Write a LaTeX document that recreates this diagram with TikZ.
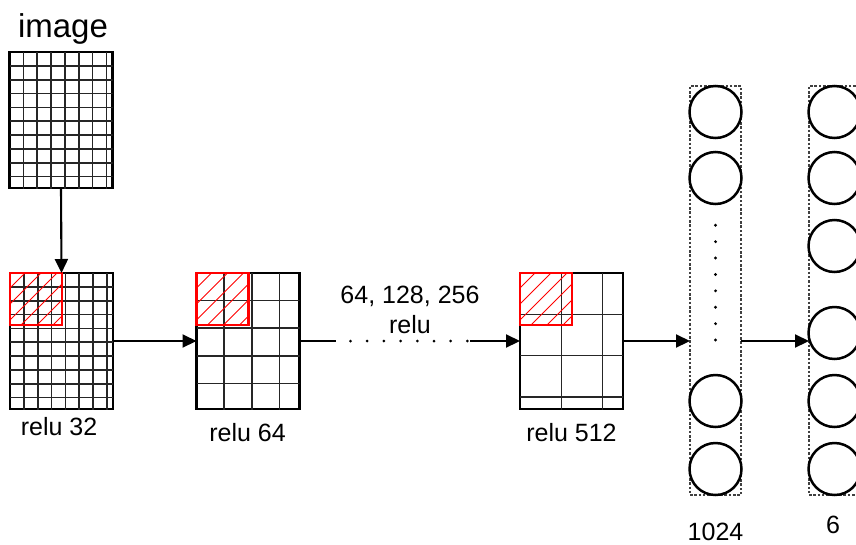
\documentclass[tikz,border=0pt]{standalone}
\usepackage{fontspec}
\setmainfont{Liberation Sans}
\usetikzlibrary{arrows.meta,calc}

% fine grid inside a feature-map box: #1 node name, #2 step
\newcommand{\cellgrid}[2]{%
  \begin{scope}
    \clip (#1.north west) rectangle (#1.south east);
    \foreach \k in {1,...,9} {
      \draw[gridline] ($(#1.north west)+(\k*#2,0)$) -- ++(0,140);
      \draw[gridline] ($(#1.north west)+(0,\k*#2)$) -- ++(110,0);
    }
  \end{scope}}

% diagonal red hatching inside a window node
\newcommand{\hatchwin}[1]{%
  \begin{scope}
    \clip (#1.north west) rectangle (#1.south east);
    \foreach \c in {15,31,...,95}
      \draw[hatch] ($(#1.north west)+(0,\c)$) -- ++(\c,-\c);
  \end{scope}}

\begin{document}
\begin{tikzpicture}[x=1pt,y=-1pt,
  fmap/.style={draw, line width=2.6pt, minimum width=103pt, minimum height=136pt,
    anchor=north west, inner sep=0pt, outer sep=0pt},
  gridline/.style={line width=1.6pt, black!85},
  window/.style={draw=red, line width=2.5pt, minimum size=52pt,
    anchor=north west, inner sep=0pt, outer sep=0pt},
  hatch/.style={red, line width=0.9pt},
  flow/.style={line width=2.1pt, -{Triangle[length=14pt,width=13pt]}},
  link/.style={line width=2.1pt},
  layerbox/.style={draw=black!75, dash pattern=on 2.5pt off 1.8pt, line width=1.4pt,
    anchor=north west, minimum width=51pt, minimum height=409pt,
    inner sep=0pt, outer sep=0pt},
  neuron/.style={circle, draw, line width=2.5pt, minimum size=52pt, inner sep=0pt},
  lbl/.style={font=\fontsize{25}{30}\selectfont, anchor=base, inner sep=0pt},
]
\useasboundingbox (0,0) rectangle (856,544);

% input image
\node[lbl, font=\fontsize{33}{40}\selectfont] (imgtxt) at (63,37) {image};
\node[fmap] (img) at (9.5,52) {};
\cellgrid{img}{13.85}

% convolution stages
\node[fmap] (c1) at (10,273) {};
\cellgrid{c1}{13.85}
\node[window] (w1) at (c1.north west) {};
\hatchwin{w1}

\node[fmap] (c2) at (196.5,273) {};
\cellgrid{c2}{27.6}
\node[window] (w2) at (c2.north west) {};
\hatchwin{w2}

\node[fmap] (c3) at (520,273) {};
\cellgrid{c3}{41.3}
\node[window] (w3) at (c3.north west) {};
\hatchwin{w3}

\node[lbl] (l1) at (59,435.5) {relu 32};
\node[lbl] (l2) at (247.5,441.5) {relu 64};
\node[lbl] (l3) at (571.5,441.5) {relu 512};

\node[lbl] (mid1) at (410,303) {64, 128, 256};
\node[lbl] (mid2) at (410,333) {relu};

% dense layers
\node[layerbox] (d1) at (690,86) {};
\node[layerbox] (d2) at (809,86) {};

\foreach \y [count=\i] in {112,178,401,469}
  \node[neuron] (n\i) at (715.5,\y) {};
\foreach \k in {0,...,7}
  \fill ($(n2.south)+(0,20+16.4*\k)$) circle (1.6);

\foreach \y [count=\i] in {112,178,246,333,401,469}
  \node[neuron] (o\i) at (834.5,\y) {};

\node[lbl] (l4) at (715.5,540) {1024};
\node[lbl] (l5) at (833,533) {6};

% connectors
\draw[flow] (img.south) -- (c1.north);
\draw[flow] (c1.east) -- (c2.west);
\draw[link] (c2.east) -- ++(36,0);
\foreach \k in {0,...,7}
  \fill ($(c2.east)+(51+16.7*\k,0)$) circle (1.5);
\draw[flow] ($(c3.west)+(-50,0)$) -- (c3.west);
\draw[flow] (c3.east) -- (c3.east -| d1.west);
\draw[flow] (d1.east |- c3.east) -- (d2.west |- c3.east);
\end{tikzpicture}
\end{document}
